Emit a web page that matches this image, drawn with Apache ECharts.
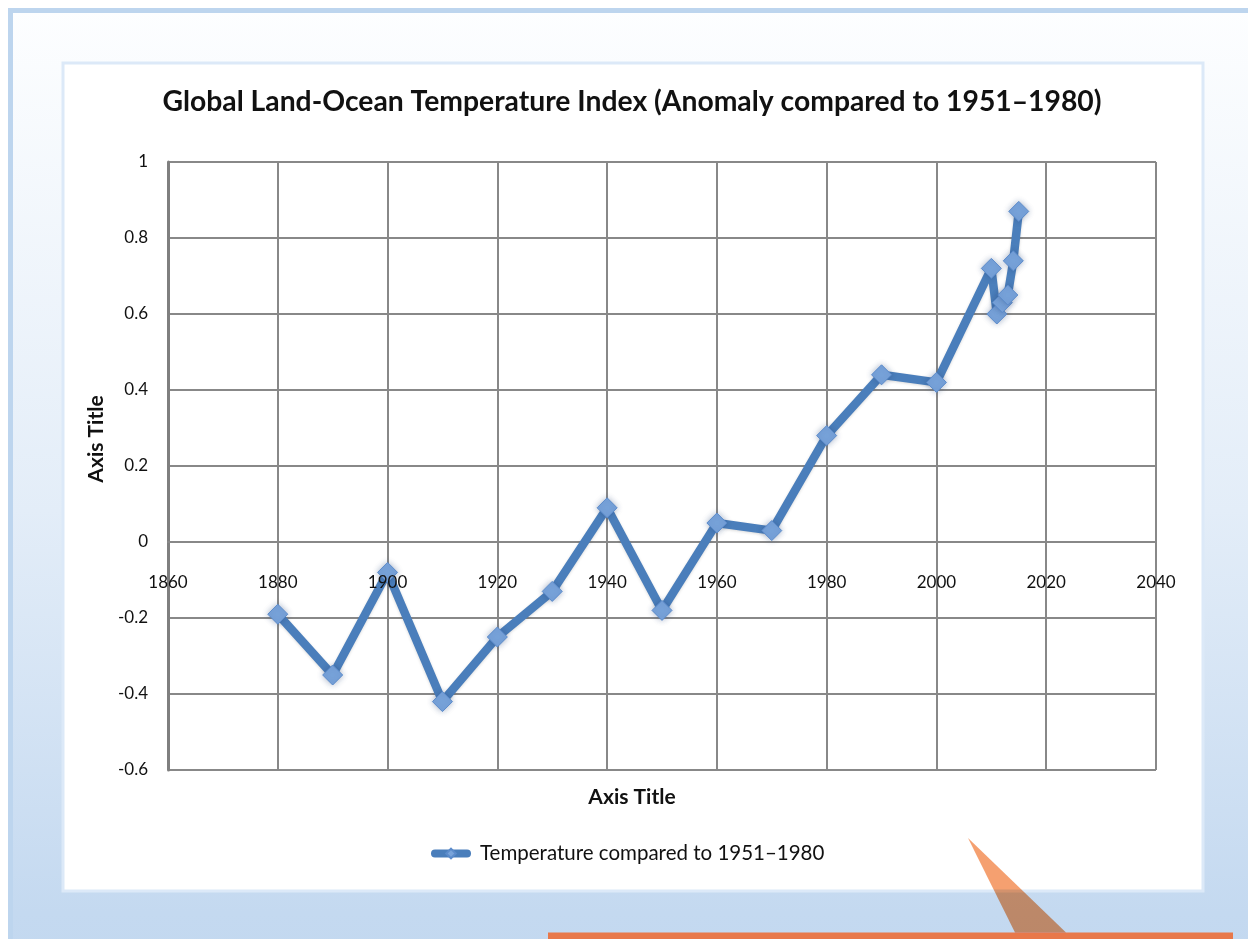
<!DOCTYPE html>
<html>
<head>
<meta charset="utf-8">
<script src="https://cdn.jsdelivr.net/npm/echarts@6/dist/echarts.min.js"></script>
<style>
html,body{margin:0;padding:0;background:#fff;}
#chart{width:1248px;height:939px;}
</style>
</head>
<body>
<div id="chart"></div>
<script>
// ---- data ----
var years = [1880, 1890, 1900, 1910, 1920, 1930, 1940, 1950, 1960, 1970, 1980, 1990, 2000, 2010, 2011, 2012, 2013, 2014, 2015];
var temps = [-0.19, -0.35, -0.08, -0.42, -0.25, -0.13, 0.09, -0.18, 0.05, 0.03, 0.28, 0.44, 0.42, 0.72, 0.60, 0.63, 0.65, 0.74, 0.87];
var titleText = 'Global Land-Ocean Temperature Index (Anomaly compared to 1951\u20131980)';
var seriesName = 'Temperature compared to 1951\u20131980';
var xAxisTitle = 'Axis Title';
var yAxisTitle = 'Axis Title';

var points = years.map(function (y, i) { return [y, temps[i]]; });

var chart = echarts.init(document.getElementById('chart'), null, {renderer: 'canvas'});
var FONT = 'Lato, "Open Sans", sans-serif';

chart.setOption({
  animation: false,
  textStyle: {fontFamily: FONT},
  title: {
    text: titleText,
    left: 632, top: 88, textAlign: 'center', padding: 0,
    textStyle: {fontFamily: FONT, fontWeight: 'bold', fontSize: 28.3, color: '#111'}
  },
  legend: {
    left: 431, top: 843, padding: 0,
    itemWidth: 32, itemHeight: 12,
    itemGap: 10,
    lineStyle: {width: 8, cap: 'round'},
    textStyle: {fontFamily: FONT, fontSize: 20.5, color: '#111', padding: [0, 0, 0, 8]},
    data: [seriesName]
  },
  grid: {left: 168, right: 92, top: 162, bottom: 169, containLabel: false},
  xAxis: [{
    type: 'value', min: 1860, max: 2040, interval: 20,
    position: 'bottom', offset: -228, z: 0,
    axisLine: {show: true, onZero: false, lineStyle: {color: '#888', width: 2}},
    axisTick: {show: false},
    axisLabel: {show: false},
    splitLine: {show: true, lineStyle: {color: '#888', width: 2}}
  }, {
    type: 'value', min: 1860, max: 2040, interval: 20,
    position: 'bottom', offset: -228, z: 20,
    axisLine: {show: false, onZero: false},
    axisTick: {show: false},
    axisLabel: {fontFamily: FONT, fontSize: 17, color: '#111', margin: 32,
      formatter: function (v) { return String(v); }},
    splitLine: {show: false}
  }],
  yAxis: {
    type: 'value', min: -0.6, max: 1, interval: 0.2,
    axisLine: {show: true, lineStyle: {color: '#7f7f7f', width: 3}},
    axisTick: {show: false},
    axisLabel: {
      fontFamily: FONT, fontSize: 17, color: '#111', margin: 20,
      padding: [8, 0, 0, 0],
      formatter: function (v) { return String(parseFloat(v.toFixed(1))); }
    },
    splitLine: {show: true, lineStyle: {color: '#888', width: 2}}
  },
  series: [{
    name: seriesName,
    type: 'line',
    xAxisIndex: 0,
    data: points,
    symbol: 'diamond',
    symbolSize: 20,
    lineStyle: {color: '#4a7ebb', width: 8.5, cap: 'round', shadowColor: 'rgba(0,0,0,0.15)', shadowBlur: 3, shadowOffsetY: 1},
    itemStyle: {color: '#78a3da', borderColor: '#5b8bcb', borderWidth: 1, shadowColor: 'rgba(40,70,120,0.4)', shadowBlur: 6},
    z: 5
  }],
  graphic: [
    {
      type: 'rect', z: -100, silent: true,
      shape: {x: 10.5, y: 10.5, width: 1300, height: 1000},
      style: {
        fill: new echarts.graphic.LinearGradient(0, 0, 0, 1, [
          {offset: 0, color: '#fdfeff'},
          {offset: 0.5, color: '#e3edf8'},
          {offset: 0.9, color: '#c4d9f0'},
          {offset: 1, color: '#c1d7ef'}
        ]),
        stroke: '#bdd5ee', lineWidth: 5
      }
    },
    {
      type: 'rect', z: -99, silent: true,
      shape: {x: 63, y: 63, width: 1140, height: 828},
      style: {fill: '#ffffff', stroke: '#dce9f8', lineWidth: 3}
    },
    {
      type: 'text', z: 10, silent: true,
      x: 632, y: 797,
      style: {text: xAxisTitle, font: 'bold 21px ' + FONT, fill: '#111', align: 'center', verticalAlign: 'middle'}
    },
    {
      type: 'text', z: 10, silent: true,
      x: 96, y: 439, rotation: Math.PI / 2,
      style: {text: yAxisTitle, font: 'bold 21px ' + FONT, fill: '#111', align: 'center', verticalAlign: 'middle'}
    },
    {
      type: 'rect', z: 100, silent: true,
      shape: {x: 548, y: 932.5, width: 685, height: 8},
      style: {fill: '#e8784a'}
    },
    {
      type: 'polygon', z: 101, silent: true,
      shape: {points: [[968, 838], [1015, 932.5], [1066, 932.5]]},
      style: {fill: '#f5a070', blend: 'multiply'}
    }
  ]
});
</script>
</body>
</html>
